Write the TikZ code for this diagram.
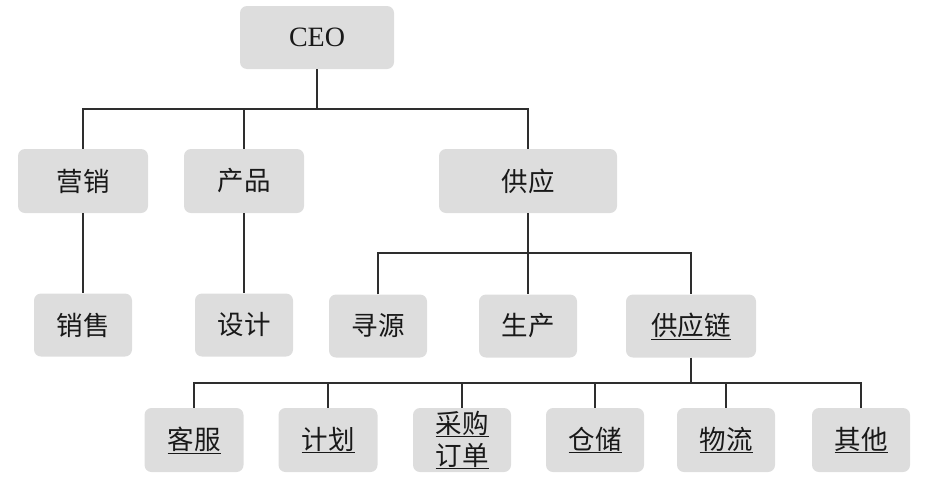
\documentclass[tikz,border=0pt]{standalone}
\usepackage{fontspec}
\setmainfont{Liberation Serif}
\newfontfamily\cjk{Noto Sans CJK SC}
\begin{document}
\begin{tikzpicture}[x=1pt,y=-1pt,
  box/.style={rectangle, rounded corners=7pt, fill=boxgray, draw=none,
    minimum height=64pt, inner sep=0pt, text=black!90,
    font=\cjk\fontsize{26.5}{31}\selectfont, align=center},
  link/.style={draw=linegray, line width=1.1pt}]
\definecolor{boxgray}{HTML}{DDDDDD}
\definecolor{linegray}{HTML}{2E2E2E}
\useasboundingbox (0,0) rectangle (928,477);

% top level
\node[box, minimum width=154pt, minimum height=63pt,
      font=\fontsize{28}{31}\selectfont] (ceo) at (317,37.5) {CEO};

% departments
\node[box, minimum width=130pt] (yx) at (83,181) {营销};
\node[box, minimum width=120pt] (cp) at (244,181) {产品};
\node[box, minimum width=178pt] (gy) at (528,181) {供应};

% second level
\node[box, minimum width=98pt, minimum height=63pt] (xs) at (83,325) {销售};
\node[box, minimum width=98pt, minimum height=63pt] (sj) at (244,325) {设计};
\node[box, minimum width=98pt, minimum height=63pt] (xy) at (378,326) {寻源};
\node[box, minimum width=98pt, minimum height=63pt] (sc) at (528,326) {生产};
\node[box, minimum width=130pt, minimum height=63pt] (gyl) at (691,326) {\underline{供应链}};

% supply chain functions
\node[box, minimum width=99pt] (kf) at (194,440) {\underline{客服}};
\node[box, minimum width=99pt] (jh) at (328,440) {\underline{计划}};
\node[box, minimum width=98pt, font=\cjk\fontsize{26.5}{32}\selectfont] (cg) at (462,440) {\underline{采购}\\\underline{订单}};
\node[box, minimum width=98pt] (cc) at (595,440) {\underline{仓储}};
\node[box, minimum width=98pt] (wl) at (726,440) {\underline{物流}};
\node[box, minimum width=98pt] (qt) at (861,440) {\underline{其他}};

% bus levels
\coordinate (busA) at (317,109);
\coordinate (busB) at (528,253);
\coordinate (busC) at (691,383);

% CEO to departments
\draw[link] (ceo.south) -- (busA);
\draw[link] (yx.north) |- (busA) -| (gy.north);
\draw[link] (cp.north) -- (cp.north |- busA);

% departments to second level
\draw[link] (yx.south) -- (xs.north);
\draw[link] (cp.south) -- (sj.north);
\draw[link] (gy.south) -- (sc.north);
\draw[link] (xy.north) |- (busB) -| (gyl.north);

% supply chain to functions
\draw[link] (gyl.south) -- (busC);
\draw[link] (kf.north) |- (busC) -| (qt.north);
\draw[link] (jh.north) -- (jh.north |- busC);
\draw[link] (cg.north) -- (cg.north |- busC);
\draw[link] (cc.north) -- (cc.north |- busC);
\draw[link] (wl.north) -- (wl.north |- busC);
\end{tikzpicture}
\end{document}
